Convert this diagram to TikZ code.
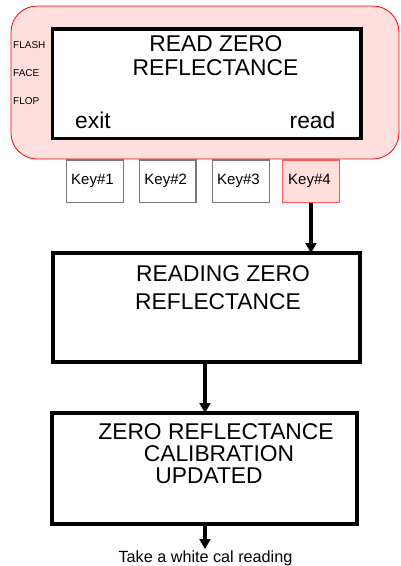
\documentclass[tikz,border=0pt]{standalone}
\usepackage{fontspec}
\setmainfont{Liberation Sans}
\usetikzlibrary{arrows.meta}
\definecolor{pinkfill}{RGB}{255,222,222}
\definecolor{keygray}{RGB}{120,120,120}
\definecolor{keyred}{RGB}{255,90,90}
\begin{document}
\begin{tikzpicture}[x=1pt,y=-1pt,
  big/.style={font=\fontsize{22.8}{22.8}\selectfont, inner sep=0pt, anchor=base},
  small/.style={font=\fontsize{10}{10}\selectfont, inner sep=0pt, anchor=base west},
  keybox/.style={draw=keygray, line width=1.3pt, minimum width=56.6pt, minimum height=42.5pt, inner sep=0pt, outer sep=0pt, font=\fontsize{15}{15}\selectfont},
  stepbox/.style={draw=black, line width=3.5pt, inner sep=0pt, outer sep=0pt, fill=white},
  flow/.style={line width=3.2pt, -{Triangle[length=10pt,width=11pt]}}
]
\useasboundingbox (0,0) rectangle (400,566);
% device panel
\node[draw=red, line width=0.8pt, fill=pinkfill, rounded corners=26pt, minimum width=388pt, minimum height=153pt, inner sep=0pt, outer sep=0pt] (panel) at (205,82.5) {};
\node[stepbox, minimum width=308.7pt, minimum height=109.3pt] (disp) at (206.7,83.7) {};
\node[small] (flash) at (13,48.5) {FLASH};
\node[small] (face) at (13,76) {FACE};
\node[small] (flop) at (13,104) {FLOP};
\node[big] (t1a) at (216,51) {READ ZERO};
\node[big] (t1b) at (215.5,75) {REFLECTANCE};
\node[big, anchor=base west] (exit) at (75,128) {exit};
\node[big, anchor=base east] (read) at (335.5,128) {read};
% keys
\node[keybox] (k1) at (95,181.3) {\hspace*{-5pt}Key\#1};
\node[keybox] (k2) at (167.7,181.3) {\hspace*{-4pt}Key\#2};
\node[keybox] (k3) at (241,181.3) {\hspace*{-5pt}Key\#3};
\node[keybox, draw=keyred, fill=pinkfill] (k4) at (311,181.3) {\hspace*{-3pt}Key\#4};
% step 2
\node[stepbox, minimum width=307pt, minimum height=109pt] (b2) at (206.5,307.5) {};
\node[big] (t2a) at (223,281) {READING ZERO};
\node[big] (t2b) at (218,309) {REFLECTANCE};
% step 3
\node[stepbox, minimum width=305pt, minimum height=111pt] (b3) at (204.5,468.5) {};
\node[big] (t3a) at (216,439) {ZERO REFLECTANCE};
\node[big] (t3b) at (219,461) {CALIBRATION};
\node[big] (t3c) at (209,483) {UPDATED};
% bottom
\coordinate (end) at (205,549);
\node[font=\fontsize{16.2}{16.2}\selectfont, inner sep=0pt, anchor=base] (next) at (205.5,562) {Take a white cal reading};
% connectors
\draw[flow] (k4.south) -- (k4.south |- b2.north);
\draw[flow] (b2.south -| end) -- (b3.north -| end);
\draw[flow] (b3.south -| end) -- (end);
\end{tikzpicture}
\end{document}
